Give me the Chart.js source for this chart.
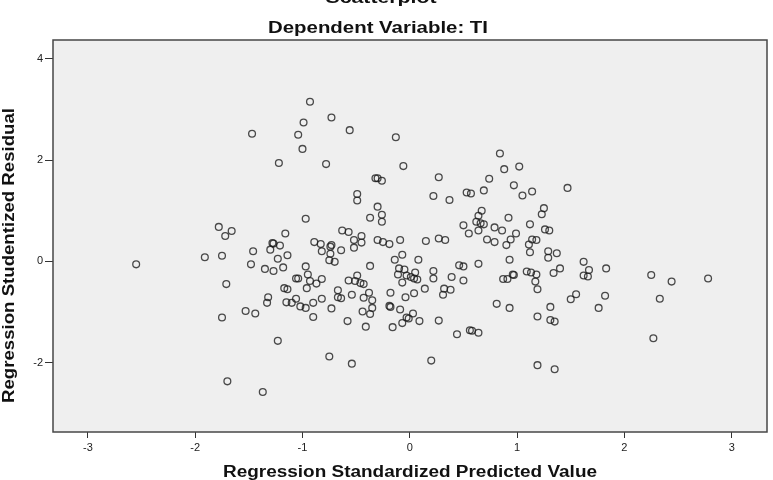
<!DOCTYPE html>
<html>
<head>
<meta charset="utf-8">
<script src="https://cdn.jsdelivr.net/npm/chart.js@4.4.1/dist/chart.umd.min.js"></script>
<style>
  html, body { margin: 0; padding: 0; background: #ffffff; }
  #wrap { width: 773px; height: 480px; position: relative; }
</style>
</head>
<body>
<div id="wrap"><canvas id="c" width="773" height="480"></canvas></div>
<script>
const chartTitle = "Scatterplot";
const chartSubtitle = "Dependent Variable: TI";
const xAxisTitle = "Regression Standardized Predicted Value";
const yAxisTitle = "Regression Studentized Residual";

const xTicks = [-3, -2, -1, 0, 1, 2, 3];
const yTicks = [-2, 0, 2, 4];

const predictedValues = [
  -1.47,-1.22,-1.78,-1.66,-1.72,-1.16,-0.93,-0.73,-0.99,-1.04,-0.56,-1.00,-0.13,-0.78,-0.06,-0.32,-0.30,-0.26,0.27,0.84,
  0.88,1.02,0.74,0.97,1.05,1.14,1.47,-0.49,-0.49,0.22,0.37,0.53,0.57,0.69,-0.30,-0.26,-0.37,-0.26,-0.97,-0.63,
  -0.57,-0.45,-0.52,-0.89,-0.30,-0.09,0.15,0.27,0.33,0.67,0.64,0.62,0.66,0.69,0.50,0.55,0.64,0.79,0.86,0.92,
  0.99,1.12,0.72,0.79,0.94,1.25,1.23,1.26,1.30,1.14,1.18,-2.55,-1.91,-1.75,-1.71,-1.75,-1.70,-1.37,-1.48,-1.46,
  -1.53,-1.44,-1.32,-1.33,-1.23,-1.23,-1.35,-1.27,-1.18,-1.14,-1.28,-1.27,-1.21,-1.30,-1.17,-1.14,-1.15,-1.10,-0.45,-0.83,
  -0.74,-0.73,-0.82,-0.74,-0.75,-0.70,-0.64,-0.52,-0.97,-0.95,-1.06,-1.04,-0.93,-0.87,-0.82,-0.96,-1.06,-1.02,-0.97,-0.90,
  -0.82,-0.90,-0.73,-0.67,-0.67,-0.64,-0.54,-0.57,-0.49,-0.51,-0.46,-0.43,-0.37,-0.38,-0.35,-0.43,-0.35,-0.44,-0.37,-0.58,
  -0.41,-0.75,-0.54,-0.25,-0.19,-0.07,-0.14,0.08,-0.10,-0.05,-0.11,-0.03,0.01,0.04,0.07,0.05,-0.07,-0.18,-0.04,0.04,
  0.14,0.22,0.22,0.32,0.38,0.31,0.39,0.50,0.46,0.50,0.64,-0.19,-0.18,-0.09,0.03,-0.03,-0.01,-0.07,0.09,-0.16,
  0.27,0.44,0.56,0.58,0.64,0.20,0.81,0.93,0.93,0.87,0.91,0.96,0.97,1.09,1.13,1.18,1.11,1.12,0.90,1.29,
  1.37,1.29,1.62,1.83,1.67,1.62,1.66,1.40,1.34,1.17,1.19,2.25,2.44,2.78,2.33,1.55,1.50,1.82,1.76,1.31,
  1.19,1.31,1.35,2.27,1.19,1.35
];

const studentizedResiduals = [
  2.52,1.94,0.68,0.60,0.50,0.55,3.15,2.84,2.74,2.50,2.59,2.22,2.45,1.92,1.88,1.64,1.64,1.59,1.66,2.13,
  1.82,1.87,1.63,1.50,1.30,1.38,1.45,1.33,1.20,1.29,1.21,1.36,1.34,1.40,1.08,0.92,0.86,0.78,0.84,0.61,
  0.58,0.50,0.42,0.38,0.42,0.42,0.40,0.45,0.42,1.00,0.90,0.78,0.75,0.73,0.71,0.55,0.61,0.67,0.61,0.86,
  0.55,0.73,0.43,0.38,0.43,1.05,0.93,0.63,0.61,0.43,0.42,-0.06,0.08,0.11,-0.45,-1.11,-2.37,-2.58,-0.06,0.20,
  -0.98,-1.03,-0.71,-0.82,-1.57,0.05,-0.15,-0.19,-0.12,0.12,0.36,0.35,0.31,0.23,-0.53,-0.55,-0.81,-0.82,0.37,0.34,
  0.29,0.32,0.20,0.15,0.02,-0.01,0.22,0.27,-0.10,-0.26,-0.34,-0.34,-0.39,-0.44,-0.35,-0.53,-0.74,-0.89,-0.92,-0.82,
  -0.74,-1.10,-0.93,-0.57,-0.71,-0.73,-0.66,-0.38,-0.28,-0.39,-0.43,-0.45,-0.09,-0.62,-0.77,-0.72,-0.92,-0.99,-1.04,-1.18,
  -1.29,-1.88,-2.02,0.38,0.34,0.13,0.03,0.03,-0.14,-0.16,-0.26,-0.28,-0.31,-0.34,-0.36,-0.22,-0.42,-0.62,-0.71,-0.63,
  -0.54,-0.19,-0.34,-0.54,-0.56,-0.66,-0.31,-0.38,-0.08,-0.10,-0.05,-0.88,-0.90,-0.95,-1.03,-1.11,-1.13,-1.22,-1.18,-1.30,
  -1.17,-1.44,-1.36,-1.37,-1.41,-1.96,-0.84,-0.92,0.03,-0.35,-0.35,-0.26,-0.27,-0.20,-0.22,-0.26,0.33,0.18,0.32,0.20,
  0.16,0.07,-0.01,-0.14,-0.17,-0.28,-0.30,-0.14,-0.23,-0.40,-0.55,-0.27,-0.40,-0.34,-0.74,-0.65,-0.75,-0.68,-0.92,-0.90,
  -1.09,-1.16,-1.19,-1.52,-2.05,-2.13
];

const points = predictedValues.map((x, i) => ({ x: x, y: studentizedResiduals[i] }));

// ---- Drawing helpers ----
function stretchedText(ctx, text, x, y, font, targetW, rot) {
  ctx.save();
  ctx.translate(x, y);
  if (rot) ctx.rotate(rot);
  ctx.font = font;
  const w = ctx.measureText(text).width;
  ctx.scale(targetW / w, 1);
  ctx.textAlign = 'center';
  ctx.textBaseline = 'alphabetic';
  ctx.fillStyle = '#111111';
  ctx.fillText(text, 0, 0);
  ctx.restore();
}

const framePlugin = {
  id: 'spssFrame',
  beforeDraw(chart) {
    const ctx = chart.ctx;
    const a = chart.chartArea;
    ctx.save();
    ctx.fillStyle = '#ffffff';
    ctx.fillRect(0, 0, chart.width, chart.height);
    ctx.fillStyle = '#efefef';
    ctx.fillRect(a.left, a.top, a.right - a.left, a.bottom - a.top);
    ctx.restore();
  },
  afterDraw(chart) {
    const ctx = chart.ctx;
    const a = chart.chartArea;
    ctx.save();
    ctx.strokeStyle = '#474747';
    ctx.lineWidth = 1.5;
    ctx.strokeRect(a.left, a.top, a.right - a.left, a.bottom - a.top);
    ctx.restore();
    stretchedText(ctx, chartTitle, 381, 3, 'bold 17px "Liberation Sans", Arial, sans-serif', 111, 0);
    stretchedText(ctx, chartSubtitle, 378, 33, 'bold 17px "Liberation Sans", Arial, sans-serif', 220, 0);
    stretchedText(ctx, xAxisTitle, 410, 476.5, 'bold 16px "Liberation Sans", Arial, sans-serif', 374, 0);
    stretchedText(ctx, yAxisTitle, 13.5, 255.5, 'bold 16px "Liberation Sans", Arial, sans-serif', 295, -Math.PI / 2);
  }
};

new Chart(document.getElementById('c'), {
  type: 'scatter',
  data: {
    datasets: [{
      data: points,
      pointStyle: 'circle',
      pointRadius: 3.4,
      pointHoverRadius: 3.4,
      pointBorderWidth: 1.3,
      pointBackgroundColor: 'rgba(0,0,0,0)',
      pointBorderColor: 'rgba(25,25,25,0.78)',
      showLine: false
    }]
  },
  options: {
    responsive: false,
    devicePixelRatio: 1,
    animation: false,
    events: [],
    layout: { padding: { top: 40, right: 6, bottom: 0, left: 0 } },
    plugins: {
      legend: { display: false },
      tooltip: { enabled: false },
      title: { display: false }
    },
    scales: {
      x: {
        type: 'linear',
        min: -3.325,
        max: 3.329,
        afterBuildTicks: (s) => { s.ticks = xTicks.map(v => ({ value: v })); },
        afterFit: (s) => { s.height = 48; },
        border: { display: false },
        grid: { drawOnChartArea: false, drawTicks: true, tickLength: 6, color: '#333333', lineWidth: 1 },
        ticks: {
          padding: 3,
          color: '#222222',
          font: { family: '"Liberation Sans", Arial, sans-serif', size: 11 },
          maxRotation: 0,
          callback: (v) => String(v)
        }
      },
      y: {
        type: 'linear',
        min: -3.37,
        max: 4.37,
        afterBuildTicks: (s) => { s.ticks = yTicks.map(v => ({ value: v })); },
        afterFit: (s) => { s.width = 53; },
        border: { display: false },
        grid: { drawOnChartArea: false, drawTicks: true, tickLength: 8, color: '#333333', lineWidth: 1 },
        ticks: {
          padding: 2,
          color: '#222222',
          font: { family: '"Liberation Sans", Arial, sans-serif', size: 11 },
          callback: (v) => String(v)
        }
      }
    }
  },
  plugins: [framePlugin]
});
</script>
</body>
</html>
